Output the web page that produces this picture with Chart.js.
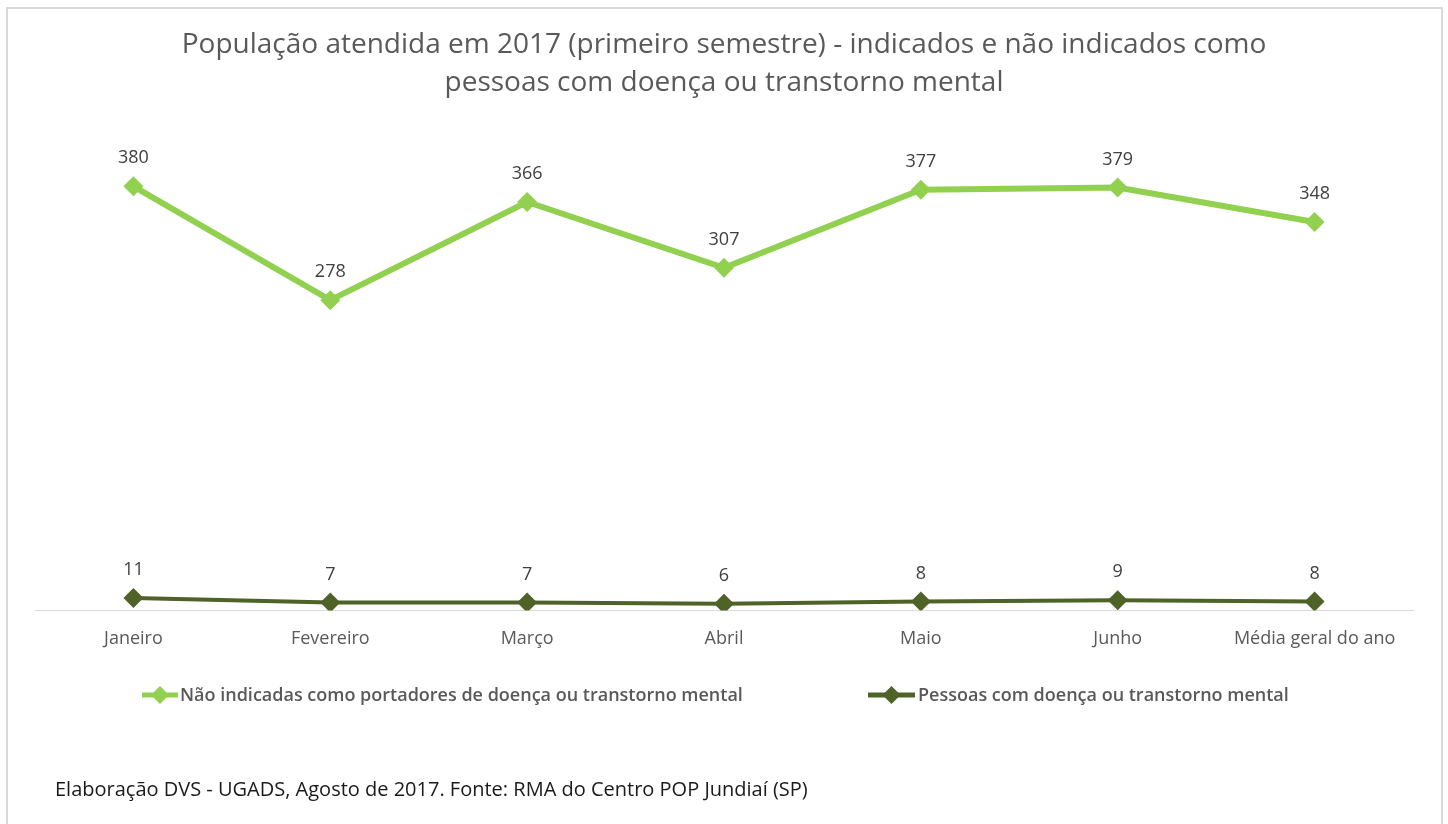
<!DOCTYPE html>
<html>
<head>
<meta charset="utf-8">
<script src="https://cdn.jsdelivr.net/npm/chart.js@4"></script>
<style>
  body { margin: 0; background: #fff; }
  #frame { position: absolute; left: 6px; top: 7px; width: 1433px; height: 840px; border: 2px solid #d9d9d9; }
  #wrap { position: absolute; left: 0; top: 0; width: 1448px; height: 824px; }
</style>
</head>
<body>
<div id="frame"></div>
<div id="wrap"><canvas id="lineChart" width="1448" height="824"></canvas></div>
<script>
var meses = ['Janeiro', 'Fevereiro', 'Março', 'Abril', 'Maio', 'Junho', 'Média geral do ano'];
var naoIndicadas = [380, 278, 366, 307, 377, 379, 348];
var comDoenca = [11, 7, 7, 6, 8, 9, 8];
var titulo = ['População atendida em 2017 (primeiro semestre) - indicados e não indicados como', 'pessoas com doença ou transtorno mental'];
var fonte = 'Elaboração DVS - UGADS, Agosto de 2017. Fonte: RMA do Centro POP Jundiaí (SP)';

var FONTE = '"Open Sans", sans-serif';

// rotulos de valor, titulo, legenda e nota de rodape
var extras = {
	id: 'extras',
	afterDatasetsDraw: function (chart) {
		var ctx = chart.ctx;
		ctx.save();
		ctx.textAlign = 'center';
		ctx.textBaseline = 'middle';
		ctx.fillStyle = '#404040';
		ctx.font = '18px ' + FONTE;
		chart.data.datasets.forEach(function (ds, i) {
			chart.getDatasetMeta(i).data.forEach(function (pt, j) {
				ctx.fillText(ds.data[j], pt.x, pt.y - 28);
			});
		});

		// titulo
		ctx.fillStyle = '#595959';
		ctx.font = '28px ' + FONTE;
		ctx.fillText(titulo[0], 724, 45);
		ctx.fillText(titulo[1], 724, 83);

		// legenda
		var leg = [{ x: 142, w: 36, tx: 180 }, { x: 868, w: 47, tx: 918 }];
		ctx.textAlign = 'left';
		ctx.font = '600 18px ' + FONTE;
		chart.data.datasets.forEach(function (ds, i) {
			var y = 695;
			var w = leg[i].w;
			ctx.strokeStyle = ds.borderColor;
			ctx.lineWidth = 5;
			ctx.beginPath();
			ctx.moveTo(leg[i].x, y);
			ctx.lineTo(leg[i].x + w, y);
			ctx.stroke();
			ctx.fillStyle = ds.backgroundColor;
			var cx = leg[i].x + w / 2, r = 9;
			ctx.beginPath();
			ctx.moveTo(cx, y - r);
			ctx.lineTo(cx + r, y);
			ctx.lineTo(cx, y + r);
			ctx.lineTo(cx - r, y);
			ctx.closePath();
			ctx.fill();
			ctx.fillStyle = '#595959';
			ctx.fillText(ds.label, leg[i].tx, y + 1);
		});

		// fonte
		ctx.fillStyle = '#1a1a1a';
		ctx.font = '20px ' + FONTE;
		ctx.fillText(fonte, 55, 790);
		ctx.restore();
	}
};

var context = document.getElementById('lineChart').getContext('2d');
var myChart = new Chart(context, {
	type: 'line',
	data: {
		labels: meses,
		datasets: [
			{
				label: 'Não indicadas como portadores de doença ou transtorno mental',
				data: naoIndicadas,
				borderColor: '#92d050',
				backgroundColor: '#92d050',
				borderWidth: 6,
				pointStyle: 'rectRot',
				pointRadius: 10,
				pointHoverRadius: 10,
				pointBorderWidth: 0,
				tension: 0
			},
			{
				label: 'Pessoas com doença ou transtorno mental',
				data: comDoenca,
				borderColor: '#4f6228',
				backgroundColor: '#4f6228',
				borderWidth: 4,
				pointStyle: 'rectRot',
				pointRadius: 10,
				pointHoverRadius: 10,
				pointBorderWidth: 0,
				tension: 0
			}
		]
	},
	options: {
		responsive: false,
		animation: false,
		layout: { padding: { left: 35, right: 35, top: 164, bottom: 156 } },
		plugins: {
			legend: { display: false },
			title: { display: false },
			tooltip: { enabled: false }
		},
		scales: {
			x: {
				offset: true,
				grid: { display: false, drawTicks: false },
				border: { display: true, color: '#d9d9d9', width: 1 },
				ticks: { color: '#595959', font: { family: FONTE, size: 18 }, padding: 18 }
			},
			y: {
				display: false,
				min: 0,
				max: 400
			}
		}
	},
	plugins: [extras]
});
</script>
</body>
</html>
